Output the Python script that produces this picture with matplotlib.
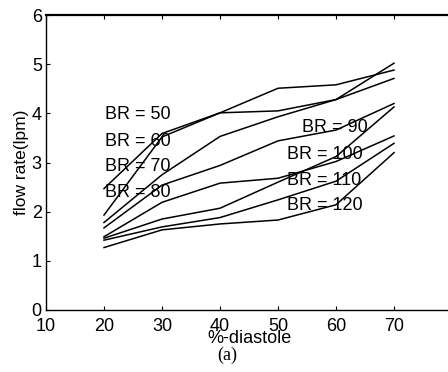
import matplotlib
matplotlib.use("Agg")
import matplotlib.pyplot as plt

diastole = [20, 30, 40, 50, 60, 70]
br_labels = ["BR = 50", "BR = 60", "BR = 70", "BR = 80",
             "BR = 90", "BR = 100", "BR = 110", "BR = 120"]
flow_br50 = [2.47, 3.59, 4.01, 4.05, 4.28, 5.02]
flow_br60 = [1.93, 3.52, 4.01, 4.51, 4.58, 4.88]
flow_br70 = [1.78, 2.75, 3.53, 3.93, 4.28, 4.71]
flow_br80 = [1.67, 2.54, 2.94, 3.44, 3.66, 4.20]
flow_br90 = [1.49, 2.19, 2.58, 2.68, 3.02, 3.54]
flow_br100 = [1.46, 1.85, 2.07, 2.60, 3.12, 4.13]
flow_br110 = [1.42, 1.69, 1.88, 2.24, 2.62, 3.39]
flow_br120 = [1.27, 1.63, 1.75, 1.83, 2.14, 3.20]
series = [flow_br50, flow_br60, flow_br70, flow_br80,
          flow_br90, flow_br100, flow_br110, flow_br120]

label_x = [20.2, 20.2, 20.2, 20.2, 54.1, 51.6, 51.6, 51.6]
label_y = [3.97, 3.42, 2.91, 2.39, 3.71, 3.17, 2.64, 2.12]

xticks = [10, 20, 30, 40, 50, 60, 70]
yticks = [0, 1, 2, 3, 4, 5, 6]

plt.rcParams['font.family'] = ['Liberation Sans', 'DejaVu Sans']

fig = plt.figure(figsize=(4.48, 3.72), dpi=100)
ax = fig.add_axes([46/448, 62/372, 406/448, 295/372])

for ys in series:
    ax.plot(diastole, ys, color='black', lw=1.1)

for t, x, y in zip(br_labels, label_x, label_y):
    ax.text(x, y, t, fontsize=13, ha='left', va='center', color='black')

ax.set_xlim(10, 80)
ax.set_ylim(0, 6)
ax.set_xticks(xticks)
ax.set_yticks(yticks)
ax.tick_params(direction='in', top=True, right=True, length=3, width=0.8,
               labelsize=13, pad=3)
ax.tick_params(axis='x', pad=6)
for s in ['left', 'bottom']:
    ax.spines[s].set_linewidth(1.0)
ax.spines['top'].set_linewidth(1.6)
ax.spines['right'].set_linewidth(1.0)

ax.set_ylabel("flow rate(lpm)", fontsize=12.5, labelpad=2)
ax.set_xlabel("%-diastole", fontsize=13, labelpad=-4)
fig.text(227/448, 1 - 355/372, "(a)", fontsize=13, ha='center', va='center',
         family=['Liberation Serif'])

fig.savefig("out.png", dpi=100)
